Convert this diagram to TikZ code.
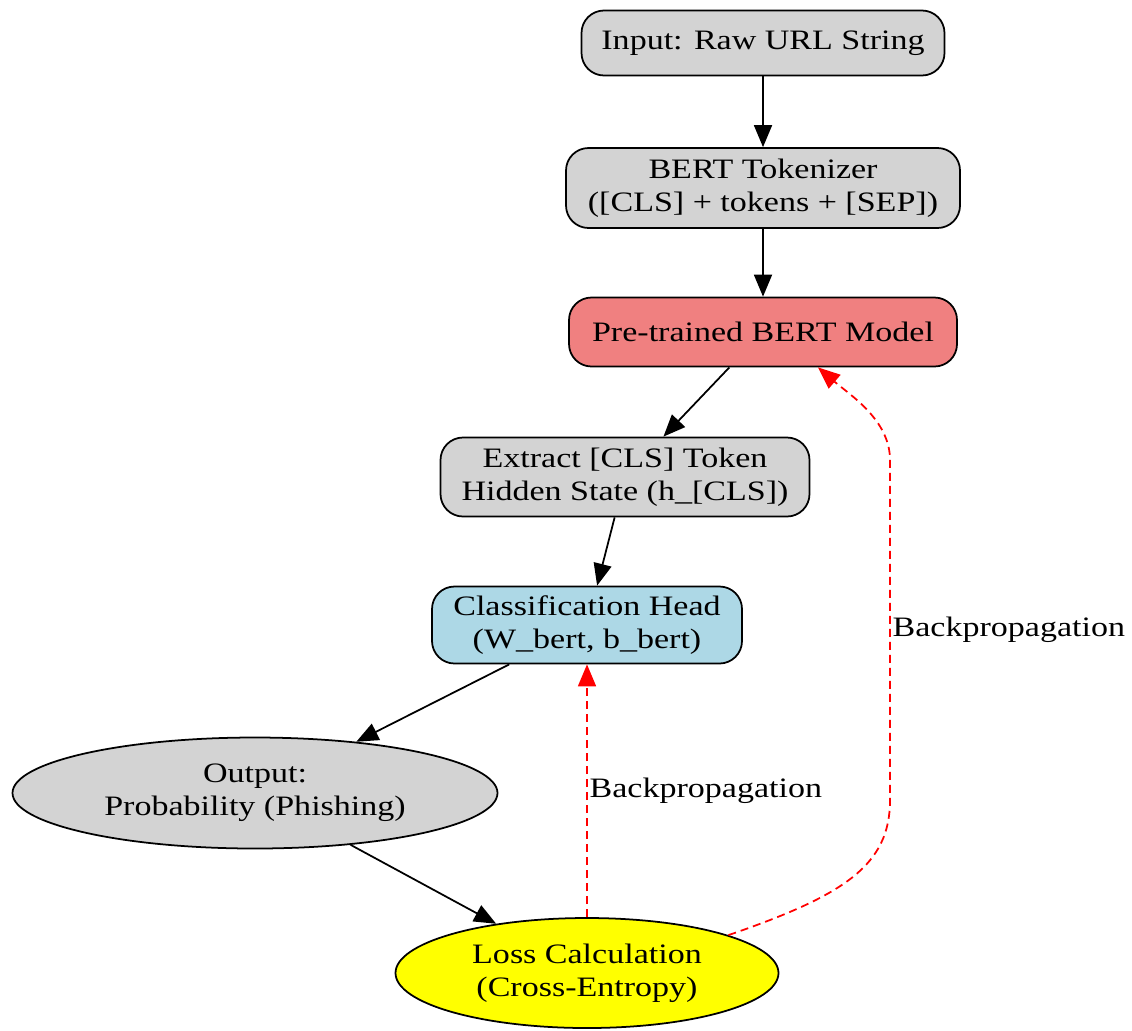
\documentclass[tikz,border=0pt]{standalone}
\usepackage{fontspec}
\setmainfont{Liberation Serif}[FakeStretch=1.21]
\usepackage{tikz}
\usetikzlibrary{shapes.geometric, arrows.meta, calc}

\definecolor{boxgray}{HTML}{D3D3D3}
\definecolor{bertred}{HTML}{F08080}
\definecolor{headblue}{HTML}{ADD8E6}
\definecolor{lossyellow}{HTML}{FFFF00}

\begin{document}
\begin{tikzpicture}[
  font=\fontsize{16}{19}\selectfont,
  stage/.style={draw, line width=1pt, rectangle, rounded corners=0.45cm, align=center, inner sep=0pt, fill=boxgray},
  oval/.style={draw, line width=1pt, ellipse, align=center, inner sep=0pt},
  flow/.style={-{Triangle[length=0.44cm, width=0.36cm]}, line width=1pt},
  backprop/.style={flow, red, dash pattern=on 0.16cm off 0.1cm}
]
\useasboundingbox (0,0) rectangle (22.64,-20.6);

% Forward pipeline
\node[stage, minimum width=7.26cm, minimum height=1.3cm] (input) at (15.26,-0.86)
   {Input: Raw URL String};
\node[stage, minimum width=7.88cm, minimum height=1.6cm] (tok) at (15.26,-3.76)
   {BERT Tokenizer\\([CLS] + tokens + [SEP])};
\node[stage, fill=bertred, minimum width=7.76cm, minimum height=1.38cm] (bert) at (15.26,-6.64)
   {Pre-trained BERT Model};
\node[stage, minimum width=7.38cm, minimum height=1.58cm] (cls) at (12.5,-9.54)
   {Extract [CLS] Token\\Hidden State (h\_[CLS])};
\node[stage, fill=headblue, minimum width=6.2cm, minimum height=1.54cm] (head) at (11.74,-12.5)
   {Classification Head\\(W\_bert, b\_bert)};
\node[oval, fill=boxgray, minimum width=9.7cm, minimum height=2.22cm] (out) at (5.1,-15.86)
   {Output:\\Probability (Phishing)};
\node[oval, fill=lossyellow, minimum width=7.66cm, minimum height=2.2cm] (loss) at (11.74,-19.46)
   {Loss Calculation\\(Cross-Entropy)};

\draw[flow] (input) -- (tok);
\draw[flow] (tok) -- (bert);
\draw[flow] (bert) -- (cls);
\draw[flow] (cls) -- (head);
\draw[flow] (head) -- (out);
\draw[flow] (out) -- (loss);

% Backpropagation
\draw[backprop] (loss) -- node[right, black, inner sep=1pt] {Backpropagation} (head);
\draw[backprop] (loss.15) .. controls (16.9,-17.9) and (17.8,-17.3) .. (17.8,-16)
   -- node[right, black, inner sep=1pt] {Backpropagation} (17.8,-9.2)
   .. controls (17.8,-8.4) and (17.0,-7.9) .. ($(bert.south)+(1.1,0)$);
\end{tikzpicture}
\end{document}
